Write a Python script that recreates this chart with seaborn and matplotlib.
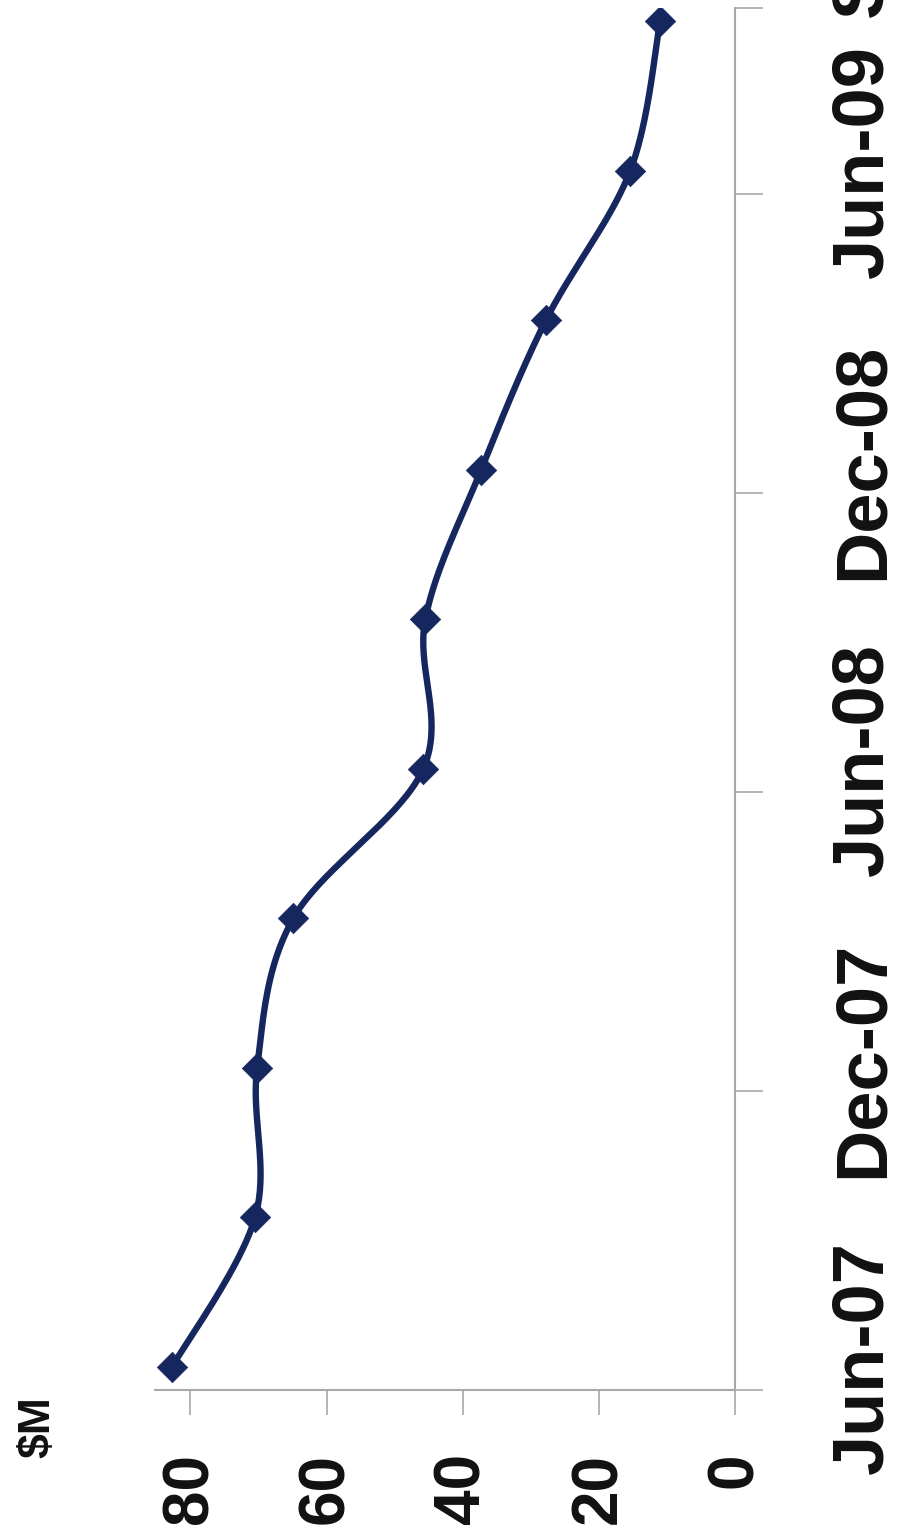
import numpy as np
import pandas as pd
import matplotlib
matplotlib.use("Agg")
import matplotlib.pyplot as plt
from matplotlib import font_manager
import seaborn as sns

# Quarterly net debt, $M
quarters = ["Jun-07", "Sep-07", "Dec-07", "Mar-08", "Jun-08",
            "Sep-08", "Dec-08", "Mar-09", "Jun-09", "Sep-09"]
net_debt = [82.7, 70.5, 70.2, 64.9, 45.8, 45.5, 37.3, 27.8, 15.4, 11.0]

value_ticks = [0, 20, 40, 60, 80]
date_labels = ["Jun-07", "Dec-07", "Jun-08", "Dec-08", "Jun-09"]
date_label_pos = [0, 2, 4, 6, 8]
trailing_label = "Sep-09"

sns.set_theme(style="white")
available = {f.name for f in font_manager.fontManager.ttflist}
main_font = "Liberation Sans Narrow" if "Liberation Sans Narrow" in available else "Liberation Sans"
plt.rcParams["font.family"] = [main_font, "DejaVu Sans"]

navy = "#16275F"
grey = "#A8A8A8"
ink = "#111111"

t = np.arange(len(quarters), dtype=float)
v = np.asarray(net_debt, dtype=float)


def smooth_path(x, y, steps=40):
    """Catmull-Rom style Bezier smoothing through every point."""
    pts = np.column_stack([x, y])
    ext = np.vstack([pts[0], pts, pts[-1]])
    out = []
    for i in range(len(pts) - 1):
        p0, p1, p2, p3 = ext[i], ext[i + 1], ext[i + 2], ext[i + 3]
        c1 = p1 + (p2 - p0) / 6.0
        c2 = p2 - (p3 - p1) / 6.0
        s = np.linspace(0, 1, steps, endpoint=(i == len(pts) - 2))[:, None]
        seg = ((1 - s) ** 3) * p1 + 3 * ((1 - s) ** 2) * s * c1 + 3 * (1 - s) * s ** 2 * c2 + s ** 3 * p2
        out.append(seg)
    out = np.vstack(out)
    return out[:, 0], out[:, 1]


st, sv = smooth_path(t, v)
curve = pd.DataFrame({"t": st, "value": sv})
points = pd.DataFrame({"t": t, "value": v, "quarter": quarters})

fig = plt.figure(figsize=(9, 15.38), dpi=100)
ax = fig.add_axes([155 / 900, 1 - 1390 / 1538, 580 / 900, (1390 - 8) / 1538])

sns.lineplot(data=curve, x="value", y="t", sort=False, estimator=None,
             orient="y", color=navy, linewidth=4.6, ax=ax)
sns.scatterplot(data=points, x="value", y="t", marker="D", s=240,
                color=navy, edgecolor=navy, linewidth=0.5, ax=ax, zorder=5)

ax.set_xlim(85.2, 0)
ax.set_ylim(-0.154, 9.09)

# value axis (bottom)
ax.set_xticks(value_ticks)
ax.set_xticklabels([str(x) for x in value_ticks], rotation=90,
                   fontsize=46, fontweight="bold", color=ink)
ax.tick_params(axis="x", direction="out", length=18, width=1.2,
               color=grey, pad=27, bottom=True)

# date axis (right): labels sit just above each half-year point
label_shift = 0.06
ax.yaxis.tick_right()
ax.set_yticks([p + label_shift for p in date_label_pos])
ax.set_yticklabels(date_labels, rotation=90, fontsize=52,
                   fontweight="bold", color=ink)
for lab in ax.get_yticklabels():
    lab.set_verticalalignment("center")
ax.tick_params(axis="y", which="major", length=0, pad=68, right=True, left=False)
minor_pos = [p - 0.154 for p in date_label_pos] + [9.09]
ax.set_yticks(minor_pos, minor=True)
ax.tick_params(axis="y", which="minor", direction="out", length=20,
               width=1.2, color=grey, right=True, left=False)

ax.text(1.0 + (829 - 735) / 580, 9.82, trailing_label,
        transform=ax.get_yaxis_transform(), rotation=90, ha="left",
        va="center", fontsize=52, fontweight="bold", color=ink, clip_on=False)

for side in ("left", "top"):
    ax.spines[side].set_visible(False)
for side in ("right", "bottom"):
    ax.spines[side].set_color(grey)
    ax.spines[side].set_linewidth(1.5)

ax.set_xlabel("")
ax.set_ylabel("")

fig.text(38 / 900, 1 - 1427 / 1538, "$M", rotation=90, ha="center",
         va="center", fontsize=32, fontweight="bold", color=ink)

fig.savefig("out.png", dpi=100, facecolor="white")
